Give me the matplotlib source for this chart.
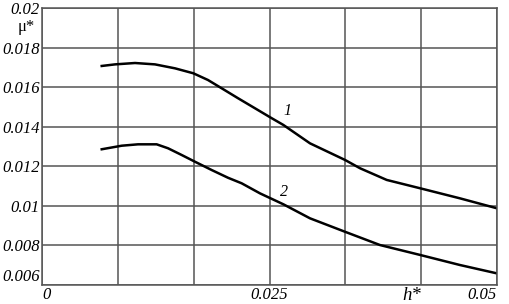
import matplotlib.pyplot as plt

# curve 1
h1 = [0.00656, 0.00802, 0.01022, 0.01242, 0.01462, 0.01663, 0.01824, 0.01975, 0.02154, 0.02341,
      0.02524, 0.02652, 0.02945, 0.03330, 0.03495, 0.03788, 0.04154, 0.04593, 0.04997]
mu1 = [0.01707, 0.01715, 0.01722, 0.01715, 0.01695, 0.01670, 0.01636, 0.01594, 0.01544, 0.01493,
       0.01443, 0.01409, 0.01316, 0.01232, 0.01190, 0.01131, 0.01089, 0.01038, 0.00988]

# curve 2
h2 = [0.00656, 0.00876, 0.01055, 0.01260, 0.01385, 0.01535, 0.01681, 0.01865, 0.02044, 0.02194,
      0.02396, 0.02652, 0.02945, 0.03330, 0.03714, 0.04154, 0.04593, 0.04997]
mu2 = [0.01286, 0.01304, 0.01311, 0.01311, 0.01291, 0.01257, 0.01223, 0.01181, 0.01142, 0.01114,
       0.01063, 0.01008, 0.00937, 0.00869, 0.00802, 0.00752, 0.00701, 0.00659]

y_ticks = [0.006, 0.008, 0.01, 0.012, 0.014, 0.016, 0.018, 0.02]
y_labels = ["0.006", "0.008", "0.01", "0.012", "0.014", "0.016", "0.018", "0.02"]
x_grid = [0.05 * i / 6 for i in range(7)]
x_labels = ["0", "", "", "0.025", "", "", "0.05"]

plt.rcParams['font.family'] = ['Liberation Serif', 'DejaVu Serif']

fig = plt.figure(figsize=(5.1, 3.04), dpi=100)
ax = fig.add_axes([0.0824, 0.0625, 0.8921, 0.9112])

ax.plot(h1, mu1, color="black", lw=1.8, solid_joinstyle="round")
ax.plot(h2, mu2, color="black", lw=1.8, solid_joinstyle="round")

ax.set_xlim(0, 0.05)
ax.set_ylim(0.006, 0.02)
ax.set_xticks(x_grid)
ax.set_xticklabels(x_labels, fontsize=12, style="italic")
ax.set_yticks(y_ticks)
ax.set_yticklabels(y_labels, fontsize=12, style="italic")
ax.tick_params(length=0, pad=1.5)
tl = ax.get_xticklabels()
tl[0].set_ha("left")
tl[6].set_ha("right")
ax.get_yticklabels()[0].set_va("bottom")
ax.grid(True, color="#555555", lw=1.1)
for s in ax.spines.values():
    s.set_color("#555555")
    s.set_linewidth(1.1)

ax.text(0.0265, 0.0146, "1", fontsize=11.5, style="italic")
ax.text(0.0261, 0.0105, "2", fontsize=11.5, style="italic")
fig.text(412 / 510, 1 - 296 / 304, "h*", fontsize=13.5, style="italic", ha="center", va="center")
fig.text(26 / 510, 1 - 27 / 304, "μ*", fontsize=12, ha="center", va="center")

fig.savefig("out.png", dpi=100)
